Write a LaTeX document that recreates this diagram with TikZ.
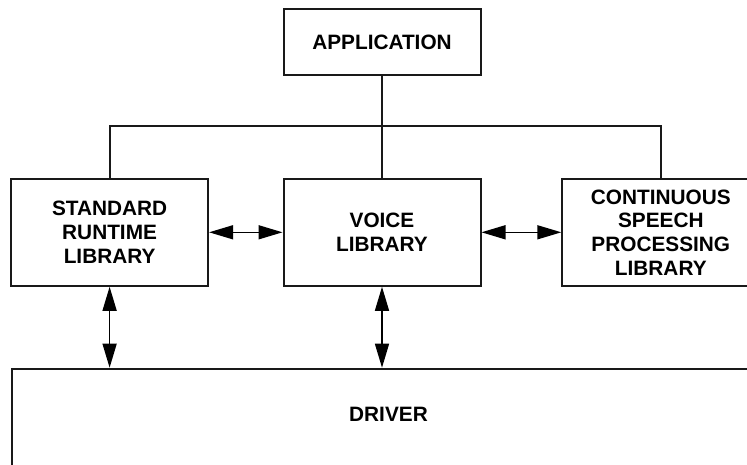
\documentclass[tikz,border=0pt]{standalone}
\usepackage{fontspec}
\setmainfont{Liberation Sans}
\usetikzlibrary{arrows.meta}
\tikzset{blk/.style={draw=black!90, line width=2pt, rectangle, align=center, inner sep=0pt,
    minimum width=197pt, minimum height=107pt,
    font=\fontsize{20.8}{23.7}\selectfont\bfseries},
  dbl/.style={line width=1.5pt, {Triangle[length=24pt,width=14pt]}-{Triangle[length=24pt,width=14pt]}}}

\begin{document}
\begin{tikzpicture}[x=1pt, y=-1pt]
    \useasboundingbox (0,0) rectangle (747,465);
    \clip (0,0) rectangle (747,465);
    \node[blk, minimum height=66pt] (app) at (382, 42.3) {APPLICATION};
    \node[blk] (stdlib) at (109.6, 232.3) {STANDARD\\RUNTIME\\LIBRARY};
    \node[blk] (voice) at (382, 232.3) {VOICE\\LIBRARY};
    \node[blk] (csp) at (660.8, 232.3) {CONTINUOUS\\SPEECH\\PROCESSING\\LIBRARY};
    \node[blk, minimum width=780pt, minimum height=140pt, anchor=north west] (driver) at (11, 367.7) {};
    \node[blk, draw=none, minimum width=0pt, minimum height=0pt] (drivertxt) at (388.5, 414) {DRIVER};
    % bus from the application
    \draw[line width=2pt, draw=black!90] (app.south) -- (voice.north);
    \draw[line width=2pt, draw=black!90] (stdlib.north) -- ++(0,-51.6) -| (csp.north);
    % data paths
    \draw[dbl] (stdlib.east) -- (voice.west);
    \draw[dbl] (voice.east) -- (csp.west);
    \draw[dbl] (stdlib.south) -- (stdlib.south |- driver.north);
    \draw[dbl] (voice.south) -- (voice.south |- driver.north);
\end{tikzpicture}
\end{document}
